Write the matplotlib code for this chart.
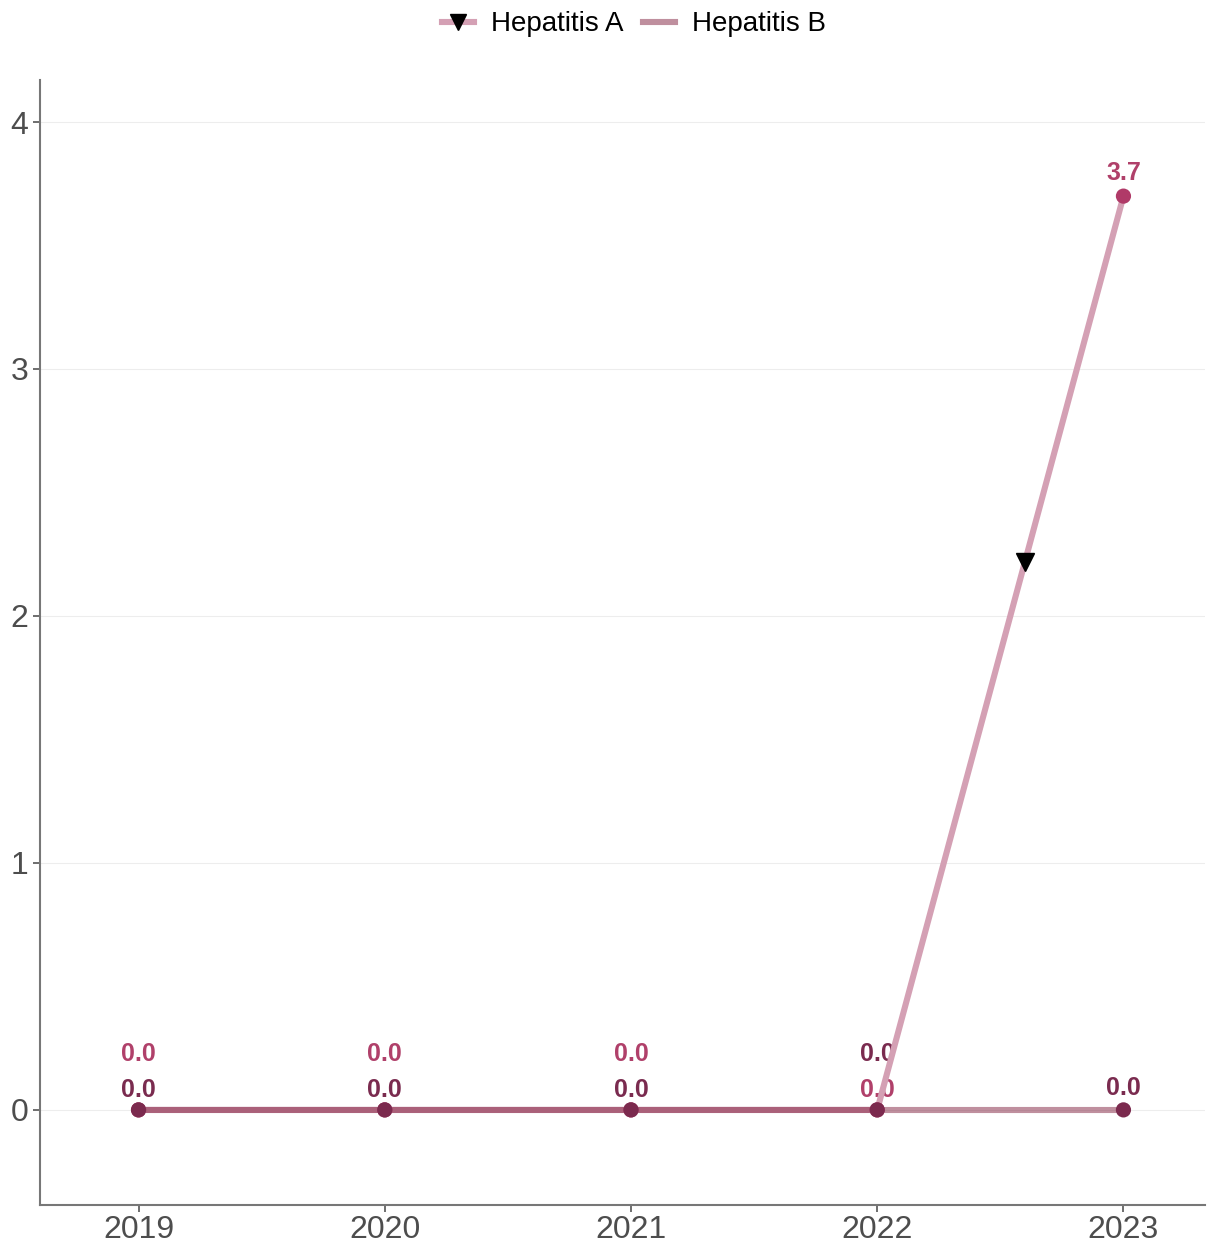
import matplotlib
matplotlib.use("Agg")
import matplotlib.pyplot as plt
from matplotlib.lines import Line2D

years = [2019, 2020, 2021, 2022, 2023]
hep_a = [0.0, 0.0, 0.0, 0.0, 3.7]
hep_b = [0.0, 0.0, 0.0, 0.0, 0.0]
series_names = ["Hepatitis A", "Hepatitis B"]
yticks = [0, 1, 2, 3, 4]

line_a = "#d4a0b4"
line_b = "#81213f"
alpha_b = 0.5
dot_a = "#b03a68"
dot_b = "#7b2a4e"
lab_a = "#b0406a"
lab_b = "#7a2b4f"

plt.rcParams['font.family'] = ['Liberation Sans', 'DejaVu Sans']

fig = plt.figure(figsize=(12.17, 12.43), dpi=100)
ax = fig.add_axes([0.0329, 0.0306, 0.957, 0.905])

ax.plot(years, hep_a, color=line_a, lw=4.4, solid_capstyle='butt', zorder=3)
ax.plot(years, hep_b, color=line_b, lw=4.4, alpha=alpha_b, solid_capstyle='butt', zorder=3.5)

# direction marker placed along the last segment of Hepatitis A
frac = 0.6
mx = years[-2] + frac * (years[-1] - years[-2])
my = hep_a[-2] + frac * (hep_a[-1] - hep_a[-2])
ax.plot([mx], [my], marker='v', color='black', ms=13, zorder=6, linestyle='none')

ax.scatter(years, hep_a, s=120, color=dot_a, zorder=4, edgecolor='none')
ax.scatter(years, hep_b, s=120, color=dot_b, zorder=5, edgecolor='none')

lab_kw = dict(textcoords='offset points', ha='center', va='center',
              fontsize=18, fontweight='bold', zorder=2)
low_off, high_off = 14.5, 40

# value labels
for i, (x, a, b) in enumerate(zip(years, hep_a, hep_b)):
    if a == b:
        if i == len(years) - 2:
            ax.annotate(f"{b:.1f}", (x, b), xytext=(0, high_off), color=lab_b, **lab_kw)
            ax.annotate(f"{a:.1f}", (x, a), xytext=(0, low_off), color=lab_a, **lab_kw)
        else:
            ax.annotate(f"{a:.1f}", (x, a), xytext=(0, high_off), color=lab_a, **lab_kw)
            ax.annotate(f"{b:.1f}", (x, b), xytext=(0, low_off), color=lab_b, **lab_kw)
    else:
        ax.annotate(f"{a:.1f}", (x, a), xytext=(0, 17), color=lab_a, **lab_kw)
        ax.annotate(f"{b:.1f}", (x, b), xytext=(0, 16), color=lab_b, **lab_kw)

ax.set_xlim(2018.6, 2023.33)
ax.set_ylim(-0.385, 4.17)
ax.set_xticks(years)
ax.set_yticks(yticks)
ax.set_xticklabels([str(y) for y in years])
ax.set_yticklabels([str(t) for t in yticks])
ax.tick_params(axis='both', labelsize=23, colors='#4d4d4d', length=5, width=1.2, color='#555555')
ax.tick_params(axis='x', pad=2)
ax.grid(axis='y', color='#ededed', lw=0.8)
ax.set_axisbelow(True)
for s in ['top', 'right']:
    ax.spines[s].set_visible(False)
for s in ['left', 'bottom']:
    ax.spines[s].set_color('#777777')
    ax.spines[s].set_linewidth(1.5)

handles = [
    Line2D([0], [0], color=line_a, lw=4.4, marker='v', markerfacecolor='black',
           markeredgecolor='black', ms=12),
    Line2D([0], [0], color=line_b, lw=4.4, alpha=alpha_b),
]
fig.legend(handles, series_names, loc='upper center', bbox_to_anchor=(0.521, 1.011), ncol=2,
           frameon=False, fontsize=20, handlelength=1.15, columnspacing=0.7, handletextpad=0.6)

fig.savefig("out.png", dpi=100)
